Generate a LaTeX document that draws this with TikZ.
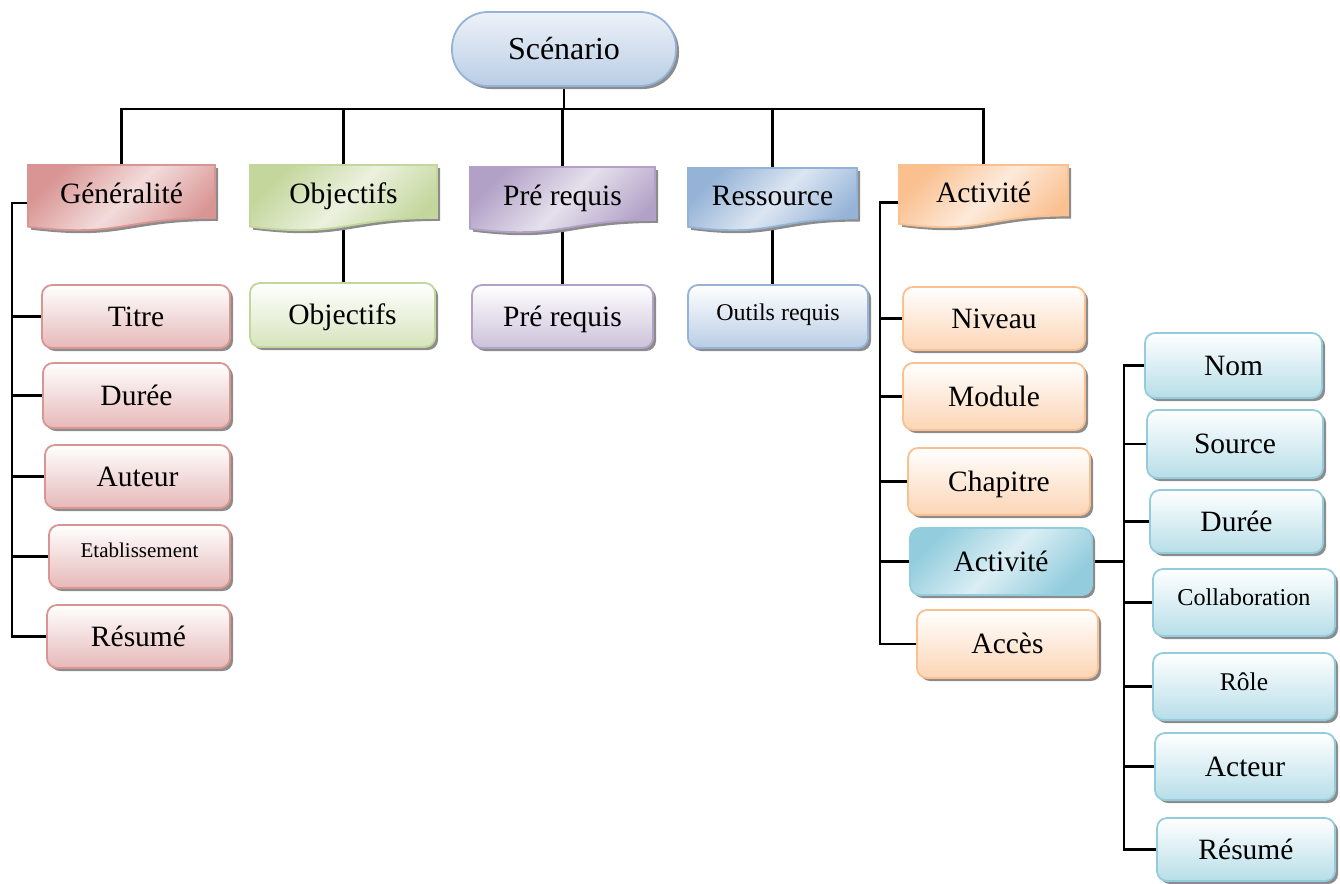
\documentclass[tikz,border=0pt]{standalone}
\usepackage{fontspec}
\setmainfont{Liberation Serif}
\usetikzlibrary{shadows,backgrounds}

% palette: border / light fill / header light
\definecolor{redB}{HTML}{D99594}\definecolor{redF}{HTML}{E6B9B8}\definecolor{redL}{HTML}{F2DCDB}
\definecolor{grnB}{HTML}{C3D69B}\definecolor{grnF}{HTML}{D7E4BD}\definecolor{grnL}{HTML}{EBF1DE}
\definecolor{purB}{HTML}{B2A1C7}\definecolor{purF}{HTML}{CCC1DA}\definecolor{purL}{HTML}{E5E0EC}
\definecolor{bluB}{HTML}{95B3D7}\definecolor{bluF}{HTML}{B9CDE5}\definecolor{bluL}{HTML}{DCE6F2}
\definecolor{orgB}{HTML}{FAC090}\definecolor{orgF}{HTML}{FCD5B5}\definecolor{orgL}{HTML}{FDEADA}
\definecolor{cyaB}{HTML}{93CDDD}\definecolor{cyaF}{HTML}{B7DEE8}\definecolor{cyaL}{HTML}{DBEEF4}

\tikzset{
  conn/.style={line width=2.4pt, black},
  % font size, cap height (keeps capitals centred in the box)
  fs/.style 2 args={font=\fontsize{#1}{#1}\selectfont, text height=#2, text depth=0pt},
  shadowed/.style={drop shadow={shadow xshift=3pt, shadow yshift=-3pt, fill=black!45, opacity=1}},
  leaf/.style={rectangle, rounded corners=10pt, line width=1.8pt, inner sep=0pt,
    fs={29.5}{19.5pt}, shadowed},
  leafred/.style={leaf, draw=redB, top color=white, bottom color=redF},
  leafgrn/.style={leaf, draw=grnB, top color=white, bottom color=grnF},
  leafpur/.style={leaf, draw=purB, top color=white, bottom color=purF},
  leafblu/.style={leaf, draw=bluB, top color=white, bottom color=bluF},
  leaforg/.style={leaf, draw=orgB, top color=white, bottom color=orgF},
  leafcya/.style={leaf, draw=cyaB, top color=white, bottom color=cyaF},
  hdrtext/.style={rectangle, inner sep=0pt, fs={29.5}{19.5pt}, text depth=8pt},
  diag/.style 2 args={top color=#1, bottom color=#1, middle color=#2, shading angle=45},
}

% document-shaped header with wavy bottom edge
% #1 name, #2 x1, #3 y1, #4 x2, #5 y2, #6 border colour, #7 dark fill, #8 light fill, #9 text
\newcommand\hdr[9]{%
  \fill[black!45, xshift=3pt, yshift=-3pt] (#2,#3) -- (#4,#3) -- (#4,{#3+0.802*(#5-#3)})
    .. controls ({(#2+#4)/2},{#3+0.802*(#5-#3)}) and ({(#2+#4)/2},{#3+1.108*(#5-#3)}) .. (#2,{#3+0.934*(#5-#3)}) -- cycle;
  \path[draw=#6, line width=1.8pt, diag={#7}{#8}] (#2,#3) -- (#4,#3) -- (#4,{#3+0.802*(#5-#3)})
    .. controls ({(#2+#4)/2},{#3+0.802*(#5-#3)}) and ({(#2+#4)/2},{#3+1.108*(#5-#3)}) .. (#2,{#3+0.934*(#5-#3)}) -- cycle;
  \node[hdrtext, minimum width={(#4-#2)*1pt}, minimum height={(#5-#3)*1pt}] (#1) at ({(#2+#4)/2},{(#3+#5)/2}) {#9};
}

\begin{document}
\begin{tikzpicture}[x=1pt,y=-1pt]
\useasboundingbox (0,0) rectangle (1340,883);

% root
\node[leaf, rounded corners=36pt, draw=bluB, top color=bluL!50!white, bottom color=bluF,
  minimum width=224pt, minimum height=74pt, fs={32}{21.1pt}] (scen) at (564,49) {Scénario};

% first level headers
\hdr{gen}{28}{165}{215}{231}{redB}{redB}{redL}{Généralité}
\hdr{obj}{250}{165}{437}{231}{grnB}{grnB}{grnL}{Objectifs}
\hdr{pre}{470}{167}{655}{233}{purB}{purB}{purL}{Pré requis}
\hdr{res}{688}{168}{857}{231}{bluB}{bluB}{bluL}{Ressource}
\hdr{act}{899}{165}{1068}{228}{orgB}{orgB}{orgL}{Activité}

% Généralité
\node[leafred, minimum width=188pt, minimum height=63pt] (titre) at (136,316.5) {Titre};
\node[leafred, minimum width=187pt, minimum height=65pt] (duree1) at (136.5,395.5) {Durée};
\node[leafred, minimum width=185pt, minimum height=63pt] (auteur) at (137.5,476.5) {Auteur};
\node[leafred, minimum width=181pt, minimum height=63pt, fs={21}{13.9pt}, text depth=12pt] (etab) at (139.5,556.5) {Etablissement};
\node[leafred, minimum width=183pt, minimum height=63pt] (resume1) at (138.5,636.5) {Résumé};

% single children
\node[leafgrn, minimum width=185pt, minimum height=64pt] (objleaf) at (342.5,315) {Objectifs};
\node[leafpur, minimum width=181pt, minimum height=63pt] (preleaf) at (562.5,316.5) {Pré requis};
\node[leafblu, minimum width=180pt, minimum height=63pt, fs={24}{15.8pt}, text depth=7pt] (outils) at (778,316.5) {Outils requis};

% Activité
\node[leaforg, minimum width=182pt, minimum height=63pt] (niveau) at (994,318.5) {Niveau};
\node[leaforg, minimum width=182pt, minimum height=67pt] (module) at (994,396.5) {Module};
\node[leaforg, minimum width=182pt, minimum height=67pt] (chapitre) at (999,481.5) {Chapitre};
\node[leaf, draw=cyaB, diag={cyaB}{cyaL}, minimum width=182pt, minimum height=67pt] (act2) at (1001,561.5) {Activité};
\node[leaforg, minimum width=181pt, minimum height=68pt] (acces) at (1007.5,644) {Accès};

% sub-activity
\node[leafcya, minimum width=177pt, minimum height=65pt] (nom) at (1233.5,365.5) {Nom};
\node[leafcya, minimum width=176pt, minimum height=68pt] (source) at (1235,444) {Source};
\node[leafcya, minimum width=173pt, minimum height=63pt] (duree2) at (1236.5,521.5) {Durée};
\node[leafcya, minimum width=182pt, minimum height=67pt, fs={24.2}{16pt}, text depth=11pt] (collab) at (1244,602.5) {Collaboration};
\node[leafcya, minimum width=182pt, minimum height=67pt, fs={25.5}{16.8pt}, text depth=8pt] (role) at (1244,686.5) {Rôle};
\node[leafcya, minimum width=180pt, minimum height=67pt] (acteur) at (1245,766.5) {Acteur};
\node[leafcya, minimum width=178pt, minimum height=63pt] (resume2) at (1246,849.5) {Résumé};

% connectors
\begin{scope}[on background layer]
  \draw[conn] (scen.south) -- ++(0,22) coordinate (bus);
  \foreach \n in {gen,obj,pre,res,act} \draw[conn] (\n.north) |- (bus);

  \coordinate (gtr) at (12,0);
  \draw[conn] ([yshift=-5pt]gen.west) -| (gtr |- resume1.west) -- (resume1.west);
  \foreach \n in {titre,duree1,auteur,etab} \draw[conn] (gtr |- \n.west) -- (\n.west);

  \draw[conn] (obj.center) -- (obj.center |- objleaf.north);
  \draw[conn] (pre.center) -- (pre.center |- preleaf.north);
  \draw[conn] (res.center) -- (res.center |- outils.north);

  \coordinate (atr) at (880,0);
  \draw[conn] ([yshift=-6pt]act.west) -| (atr |- acces.west) -- (acces.west);
  \foreach \n in {niveau,module,chapitre,act2} \draw[conn] (atr |- \n.west) -- (\n.west);

  \coordinate (ctr) at (1124,0);
  \draw[conn] (act2.east) -- (ctr |- act2.east);
  \draw[conn] (nom.west) -| (ctr |- resume2.west) -- (resume2.west);
  \foreach \n in {source,duree2,collab,role,acteur} \draw[conn] (ctr |- \n.west) -- (\n.west);
\end{scope}
\end{tikzpicture}
\end{document}
